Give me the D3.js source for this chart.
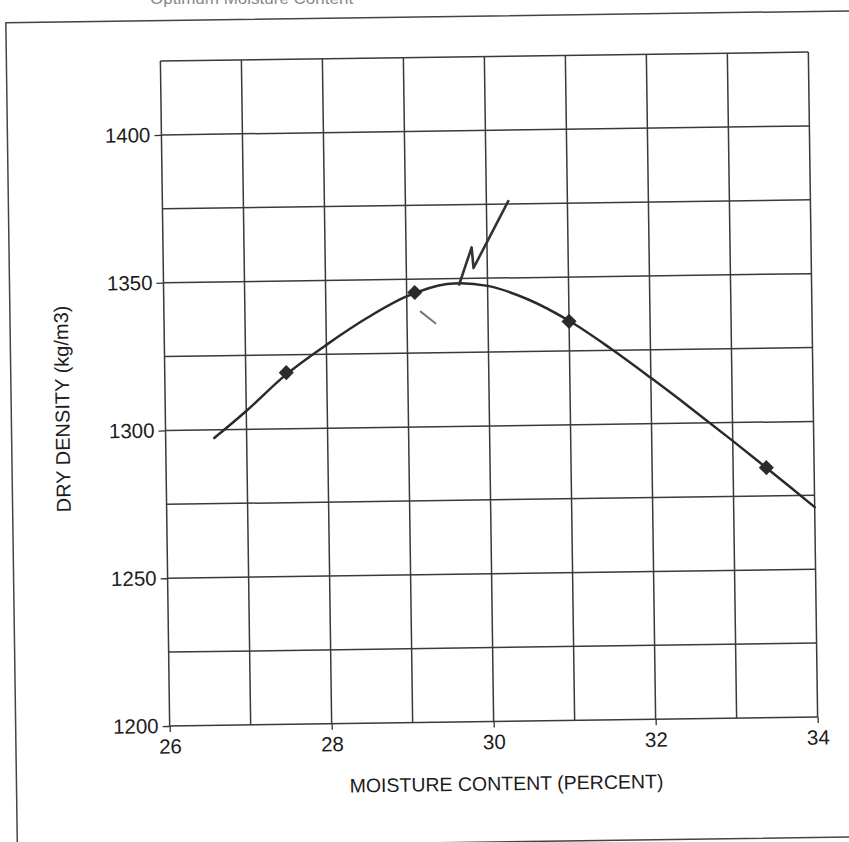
<!DOCTYPE html>
<html>
<head>
<meta charset="utf-8">
<script src="https://cdn.jsdelivr.net/npm/d3@7"></script>
<style>
  body { margin: 0; background: #fff; }
  svg { display: block; font-family: Arial, "Liberation Sans", sans-serif; }
  .grid line { stroke: #3a3a3a; stroke-width: 1.5; }
  .axis text { fill: #1c1c1c; }
  .axis line { stroke: #333; stroke-width: 1.3; }
</style>
</head>
<body>
<div id="chart"></div>
<script>
// measured points (moisture %, dry density kg/m3)
const moisture = [27.5, 29.1, 31.0, 33.41];
const density = [1319, 1345.5, 1335, 1284.6];

// fitted curve
const curveMoisture = [26.6, 27.0, 27.5, 28.0, 28.5, 29.0, 29.5, 30.0, 30.5, 31.0, 31.5, 32.0, 32.5, 33.0, 33.5, 34.0];
const curveDensity = [1297.2, 1306.2, 1318.4, 1328.2, 1337.0, 1344.2, 1348.2, 1347.4, 1342.6, 1335.2, 1325.8, 1315.5, 1304.8, 1293.8, 1282.5, 1271.0];

// hand pen marks
const penMoisture = [29.65, 29.81, 29.83, 30.27];
const penDensity = [1348, 1360.5, 1353.5, 1376];
const dashMoisture = [29.17, 29.35];
const dashDensity = [1339, 1335];

const xTicks = [26, 28, 30, 32, 34];
const yTicks = [1200, 1250, 1300, 1350, 1400];
const xGrid = [26, 27, 28, 29, 30, 31, 32, 33, 34];
const yGrid = [1200, 1225, 1250, 1275, 1300, 1325, 1350, 1375, 1400, 1425];

const W = 849, H = 842;
const margin = { top: 56.5, left: 165, right: 36, bottom: 120.5 };
const width = W - margin.left - margin.right;
const height = H - margin.top - margin.bottom;

const svg = d3.select('#chart').append('svg')
    .attr('width', W)
    .attr('height', H);

// faint cut-off heading at the top of the scan
svg.append('text')
    .attr('x', 150)
    .attr('y', 4)
    .attr('fill', '#888')
    .style('font-size', '17px')
    .text('Optimum Moisture Content');

// the sheet is scanned slightly crooked
const page = svg.append('g')
    .attr('transform', 'rotate(-0.8,' + (margin.left + width / 2) + ',' + (margin.top + height / 2) + ')');

// outer frame
page.append('rect')
    .attr('x', 11)
    .attr('y', 16)
    .attr('width', 860)
    .attr('height', 826)
    .attr('fill', 'none')
    .attr('stroke', '#444')
    .attr('stroke-width', 1.5);

const g = page.append('g')
    .attr('transform', 'translate(' + margin.left + ',' + margin.top + ')');

const x = d3.scaleLinear().domain([26, 34]).range([0, width]);
const y = d3.scaleLinear().domain([1200, 1425]).range([height, 0]);

// grid
g.append('g').attr('class', 'grid')
    .selectAll('line').data(xGrid).join('line')
    .attr('x1', d => x(d)).attr('x2', d => x(d))
    .attr('y1', 0).attr('y2', height);

g.append('g').attr('class', 'grid')
    .selectAll('line').data(yGrid).join('line')
    .attr('x1', 0).attr('x2', width)
    .attr('y1', d => y(d)).attr('y2', d => y(d));

// axes
const xAxis = g.append('g').attr('class', 'axis')
    .attr('transform', 'translate(0,' + height + ')')
    .call(d3.axisBottom(x).tickValues(xTicks).tickSize(6).tickPadding(7));
xAxis.select('.domain').remove();
xAxis.selectAll('text').style('font-size', '20.5px');

const yAxis = g.append('g').attr('class', 'axis')
    .call(d3.axisLeft(y).tickValues(yTicks).tickFormat(d3.format('d')).tickSize(7).tickPadding(4));
yAxis.select('.domain').remove();
yAxis.selectAll('text').style('font-size', '20.5px');

// axis labels
g.append('text')
    .attr('x', width / 2 + 12)
    .attr('y', height + 69)
    .attr('text-anchor', 'middle')
    .attr('fill', '#1c1c1c')
    .style('font-size', '19.5px')
    .text('MOISTURE CONTENT (PERCENT)');

g.append('text')
    .attr('transform', 'translate(-96,' + (height / 2 + 14) + ') rotate(-90)')
    .attr('text-anchor', 'middle')
    .attr('fill', '#1c1c1c')
    .style('font-size', '20px')
    .text('DRY DENSITY (kg/m3)');

// fitted curve
const curve = curveMoisture.map((m, i) => [m, curveDensity[i]]);
g.append('path')
    .datum(curve)
    .attr('fill', 'none')
    .attr('stroke', '#2a2a2a')
    .attr('stroke-width', 2.5)
    .attr('stroke-linecap', 'round')
    .attr('d', d3.line().x(d => x(d[0])).y(d => y(d[1])).curve(d3.curveCatmullRom));

// pen marks
const pen = penMoisture.map((m, i) => [m, penDensity[i]]);
g.append('path')
    .datum(pen)
    .attr('fill', 'none')
    .attr('stroke', '#333')
    .attr('stroke-width', 2.6)
    .attr('stroke-linecap', 'round')
    .attr('stroke-linejoin', 'round')
    .attr('d', d3.line().x(d => x(d[0])).y(d => y(d[1])));

const dash = dashMoisture.map((m, i) => [m, dashDensity[i]]);
g.append('path')
    .datum(dash)
    .attr('fill', 'none')
    .attr('stroke', '#777')
    .attr('stroke-width', 2)
    .attr('stroke-linecap', 'round')
    .attr('d', d3.line().x(d => x(d[0])).y(d => y(d[1])).curve(d3.curveBasis));

// data points
g.append('g')
    .selectAll('path')
    .data(moisture.map((m, i) => [m, density[i]]))
    .join('path')
    .attr('transform', d => 'translate(' + x(d[0]) + ',' + y(d[1]) + ')')
    .attr('d', d3.symbol(d3.symbolDiamond2, 145))
    .attr('fill', '#2b2b2b');
</script>
</body>
</html>
